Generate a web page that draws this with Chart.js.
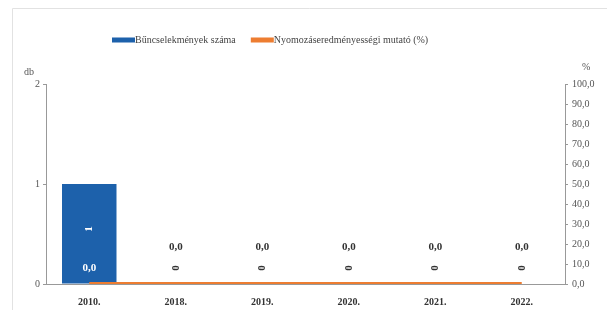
<!DOCTYPE html>
<html>
<head>
<meta charset="utf-8">
<script src="https://cdn.jsdelivr.net/npm/chart.js@4.4.1/dist/chart.umd.min.js"></script>
<style>
  html, body { margin: 0; padding: 0; background: #fff; }
  #wrap { position: relative; width: 607px; height: 311px; }
</style>
</head>
<body>
<div id="wrap"><canvas id="chart" width="607" height="311"></canvas></div>
<script>
const years = ['2010.', '2018.', '2019.', '2020.', '2021.', '2022.'];
const crimeCounts = [1, 0, 0, 0, 0, 0];
const clearanceRate = [0, 0, 0, 0, 0, 0];
const seriesNames = ['Bűncselekmények száma', 'Nyomozáseredményességi mutató (%)'];

const blue = '#1d61ab';
const orange = '#ed7d31';
const serif = '"Liberation Serif", "DejaVu Serif", serif';

function fmt(v) {
  return v.toFixed(1).replace('.', ',');
}

// legend, unit labels, frame and data labels
const extras = {
  id: 'extras',
  beforeDraw(chart) {
    const ctx = chart.ctx;
    ctx.save();
    ctx.strokeStyle = '#e2e2e2';
    ctx.lineWidth = 1;
    ctx.beginPath();
    ctx.moveTo(12.5, 310);
    ctx.lineTo(12.5, 8.5);
    ctx.lineTo(607, 8.5);
    ctx.stroke();
    ctx.restore();
  },
  afterDraw(chart) {
    const ctx = chart.ctx;
    ctx.save();

    // legend
    ctx.font = '10px ' + serif;
    ctx.textBaseline = 'middle';
    let x = 112;
    const ly = 40;
    [blue, orange].forEach((c, i) => {
      ctx.fillStyle = c;
      ctx.fillRect(x, ly - 2.5, 23, 5);
      x += 23;
      ctx.fillStyle = '#444';
      ctx.textAlign = 'left';
      ctx.fillText(seriesNames[i], x, ly);
      x += ctx.measureText(seriesNames[i]).width + 15;
    });

    // unit labels
    ctx.font = '10px ' + serif;
    ctx.fillStyle = '#555';
    ctx.textAlign = 'left';
    ctx.fillText('db', 24, 72);
    ctx.fillText('%', 582, 67);

    // data labels
    const bars = chart.getDatasetMeta(0).data;
    const pts = chart.getDatasetMeta(1).data;
    const base = chart.scales.y.getPixelForValue(0);
    ctx.font = 'bold 11px ' + serif;
    ctx.textAlign = 'center';
    bars.forEach((bar, i) => {
      const v = crimeCounts[i];
      const y = v > 0 ? (bar.y + base) / 2 - 5 : base - 16;
      ctx.save();
      ctx.translate(bar.x, y);
      ctx.rotate(-Math.PI / 2);
      ctx.fillStyle = v > 0 ? '#fff' : '#333';
      ctx.fillText(String(v), 0, 0);
      ctx.restore();
    });
    pts.forEach((p, i) => {
      const inside = crimeCounts[i] > 0;
      ctx.fillStyle = inside ? '#fff' : '#333';
      ctx.fillText(fmt(clearanceRate[i]), p.x, inside ? p.y - 16 : p.y - 37);
    });
    ctx.restore();
  }
};

new Chart(document.getElementById('chart'), {
  data: {
    labels: years,
    datasets: [
      {
        type: 'bar',
        label: seriesNames[0],
        data: crimeCounts,
        backgroundColor: blue,
        yAxisID: 'y',
        categoryPercentage: 0.63,
        barPercentage: 1,
        order: 2
      },
      {
        type: 'line',
        label: seriesNames[1],
        data: clearanceRate,
        borderColor: orange,
        backgroundColor: orange,
        borderWidth: 4,
        pointRadius: 0,
        yAxisID: 'y1',
        order: 1
      }
    ]
  },
  options: {
    responsive: false,
    animation: false,
    layout: { padding: { top: 84, left: 0, right: 0, bottom: 0 } },
    plugins: {
      legend: { display: false },
      tooltip: { enabled: false }
    },
    scales: {
      x: {
        grid: { display: false },
        border: { color: '#999', dash: [2, 2] },
        ticks: { color: '#333', font: { family: serif, size: 10, weight: 'bold' }, padding: 4 },
        afterFit(s) { s.height = 27; }
      },
      y: {
        position: 'left',
        min: 0, max: 2,
        ticks: { stepSize: 1, color: '#555', font: { family: serif, size: 10 }, padding: 3 },
        grid: { drawOnChartArea: false, tickLength: 3, color: '#999' },
        border: { color: '#999', dash: [2, 2] },
        afterFit(s) { s.width = 46; }
      },
      y1: {
        position: 'right',
        min: 0, max: 100,
        ticks: { stepSize: 10, color: '#555', font: { family: serif, size: 10 }, padding: 4, callback: v => fmt(v) },
        grid: { drawOnChartArea: false, tickLength: 3, color: '#999' },
        border: { color: '#999', dash: [2, 2] },
        afterFit(s) { s.width = 42; }
      }
    }
  },
  plugins: [extras]
});
</script>
</body>
</html>
